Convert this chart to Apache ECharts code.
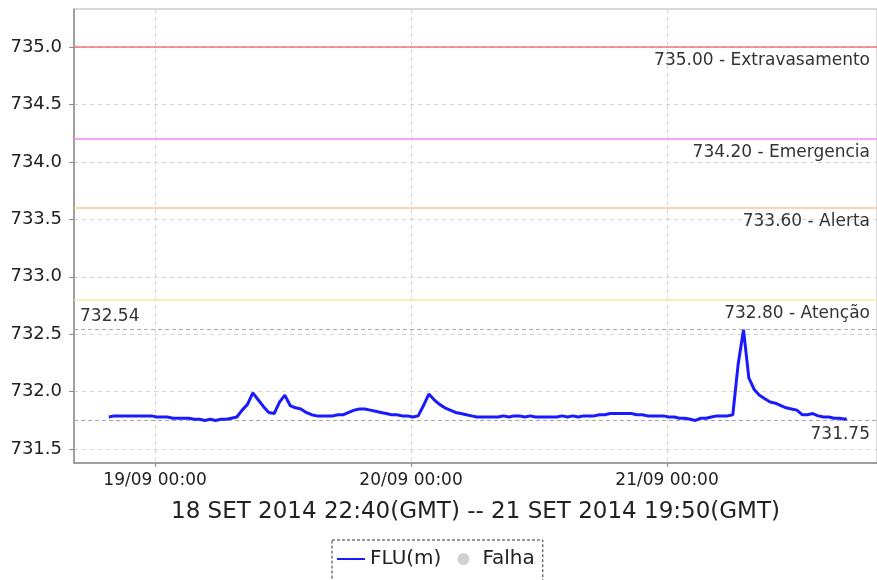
<!DOCTYPE html>
<html>
<head>
<meta charset="utf-8">
<script src="https://cdn.jsdelivr.net/npm/echarts@6/dist/echarts.min.js"></script>
<style>
  html, body { margin: 0; padding: 0; background: #fff; }
  #chart { width: 877px; height: 580px; }
</style>
</head>
<body>
<div id="chart"></div>
<script>
// Water level readings (m), every 30 minutes from 18/09 19:40 (local clock)
const seriesName = 'FLU(m)';
const failName = 'Falha';
const periodLabel = '18 SET 2014 22:40(GMT) -- 21 SET 2014 19:50(GMT)';
const firstReading = [2014, 9, 18, 19, 40];
const stepMinutes = 30;
const levels = [
  731.78, 731.79, 731.79, 731.79, 731.79, 731.79, 731.79, 731.79, 731.79, 731.78,
  731.78, 731.78, 731.77, 731.77, 731.77, 731.77, 731.76, 731.76, 731.75, 731.76,
  731.75, 731.76, 731.76, 731.77, 731.78, 731.84, 731.89, 731.99, 731.93, 731.87,
  731.82, 731.81, 731.91, 731.97, 731.88, 731.86, 731.85, 731.82, 731.80, 731.79,
  731.79, 731.79, 731.79, 731.80, 731.80, 731.82, 731.84, 731.85, 731.85, 731.84,
  731.83, 731.82, 731.81, 731.80, 731.80, 731.79, 731.79, 731.78, 731.79, 731.88,
  731.98, 731.93, 731.89, 731.86, 731.84, 731.82, 731.81, 731.80, 731.79, 731.78,
  731.78, 731.78, 731.78, 731.78, 731.79, 731.78, 731.79, 731.79, 731.78, 731.79,
  731.78, 731.78, 731.78, 731.78, 731.78, 731.79, 731.78, 731.79, 731.78, 731.79,
  731.79, 731.79, 731.80, 731.80, 731.81, 731.81, 731.81, 731.81, 731.81, 731.80,
  731.80, 731.79, 731.79, 731.79, 731.79, 731.78, 731.78, 731.77, 731.77, 731.76,
  731.75, 731.77, 731.77, 731.78, 731.79, 731.79, 731.79, 731.80, 732.24, 732.54,
  732.12, 732.02, 731.97, 731.94, 731.91, 731.90, 731.88, 731.86, 731.85, 731.84,
  731.80, 731.80, 731.81, 731.79, 731.78, 731.78, 731.77, 731.77, 731.76
];
const lastReadingTime = [2014, 9, 21, 16, 50];
const lastReadingLevel = 731.77;

// Reference levels
const limitValues = [735.00, 734.20, 733.60, 732.80];
const limitNames = ['Extravasamento', 'Emergencia', 'Alerta', 'Atenção'];
const limitColors = ['#f07474', '#f48af4', '#f9c892', '#f9eaa0'];

// Axis extents
const timeStart = [2014, 9, 18, 16, 24];
const timeEnd = [2014, 9, 21, 19, 41];
const levelMin = 731.38;
const levelMax = 735.33;

function utc(p) { return Date.UTC(p[0], p[1] - 1, p[2], p[3], p[4]); }

const t0 = utc(firstReading);
const points = levels.map((v, i) => [t0 + i * stepMinutes * 60000, v]);
points.push([utc(lastReadingTime), lastReadingLevel]);

const FONT = 'DejaVu Sans';

const chart = echarts.init(document.getElementById('chart'), null, { renderer: 'canvas' });

chart.setOption({
  useUTC: true,
  animation: false,
  backgroundColor: '#ffffff',
  grid: {
    left: 74, right: -1, top: 9, bottom: 117,
    show: true, borderColor: '#b4b4b4', borderWidth: 1,
    containLabel: false
  },
  legend: {
    left: 332, top: 540,
    padding: [9, 8, 12, 5],
    itemGap: 16,
    itemWidth: 28, itemHeight: 12,
    borderColor: '#333', borderWidth: 1, borderType: [3, 2],
    textStyle: { fontFamily: FONT, fontSize: 20, color: '#222' },
    data: [
      { name: seriesName, icon: 'path://M0,5 L28,5 L28,7 L0,7 Z' },
      { name: failName, icon: 'circle', itemStyle: { color: '#c4c4c4' } }
    ]
  },
  xAxis: {
    type: 'time',
    min: utc(timeStart),
    max: utc(timeEnd),
    minInterval: 86400000,
    maxInterval: 86400000,
    name: periodLabel,
    nameLocation: 'middle',
    nameGap: 38,
    nameTextStyle: { fontFamily: FONT, fontSize: 23, color: '#222' },
    axisLine: { show: true, lineStyle: { color: '#8c8c8c', width: 1.5 } },
    axisTick: { show: true, length: 4, lineStyle: { color: '#8c8c8c' } },
    axisLabel: {
      fontFamily: FONT, fontSize: 17, color: '#222', margin: 9,
      showMinLabel: false, showMaxLabel: false,
      formatter: function (v) {
        const d = new Date(v);
        const pad = n => String(n).padStart(2, '0');
        return pad(d.getUTCDate()) + '/' + pad(d.getUTCMonth() + 1) + ' ' +
               pad(d.getUTCHours()) + ':' + pad(d.getUTCMinutes());
      }
    },
    splitLine: { show: true, lineStyle: { color: '#d4d4d4', type: [4, 4], width: 1 } }
  },
  yAxis: {
    type: 'value',
    min: levelMin,
    max: levelMax,
    splitNumber: 8,
    axisLine: { show: true, lineStyle: { color: '#8c8c8c', width: 1.5 } },
    axisTick: { show: true, length: 5, lineStyle: { color: '#8c8c8c' } },
    axisLabel: {
      fontFamily: FONT, fontSize: 18, color: '#222', margin: 12,
      showMinLabel: false, showMaxLabel: false,
      formatter: v => v.toFixed(1)
    },
    splitLine: { show: true, lineStyle: { color: '#d4d4d4', type: [4, 4], width: 1 } }
  },
  series: [
    {
      name: seriesName,
      type: 'line',
      data: points,
      symbol: 'none',
      showSymbol: false,
      lineStyle: { color: '#1a1aff', width: 3 },
      itemStyle: { color: '#1a1aff' },
      z: 5,
      markLine: {
        silent: true,
        symbol: 'none',
        animation: false,
        data: limitValues.map((v, i) => ({
          yAxis: v,
          lineStyle: { color: limitColors[i], type: 'solid', width: 1.5 },
          label: {
            show: true,
            position: 'insideEndBottom',
            distance: [7, 5],
            formatter: v.toFixed(2) + ' - ' + limitNames[i],
            fontFamily: FONT, fontSize: 17, color: '#333'
          }
        })).concat([
          {
            type: 'max',
            lineStyle: { color: '#a8a8a8', type: [4, 3], width: 1 },
            label: {
              show: true, position: 'insideStartTop', distance: [6, 5],
              formatter: p => p.value.toFixed(2),
              fontFamily: FONT, fontSize: 17, color: '#333'
            }
          },
          {
            type: 'min',
            lineStyle: { color: '#a8a8a8', type: [4, 3], width: 1 },
            label: {
              show: true, position: 'insideEndBottom', distance: [7, 6],
              formatter: p => p.value.toFixed(2),
              fontFamily: FONT, fontSize: 17, color: '#333'
            }
          }
        ])
      }
    },
    {
      name: failName,
      type: 'scatter',
      data: [],
      symbol: 'circle',
      itemStyle: { color: '#c4c4c4' }
    }
  ]
});
</script>
</body>
</html>
